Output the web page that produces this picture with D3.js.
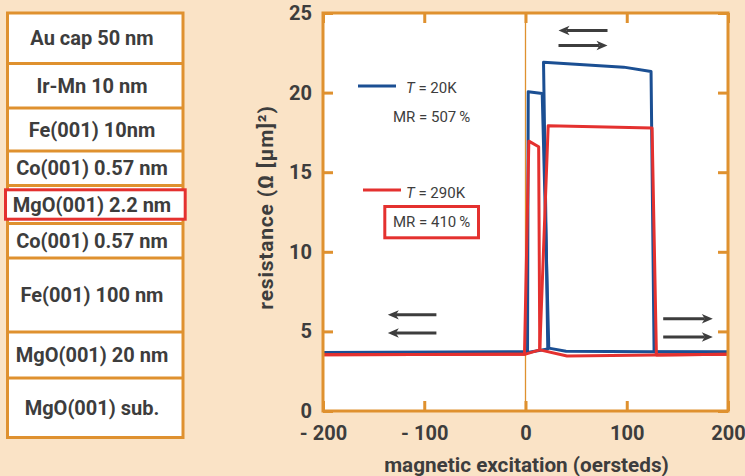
<!DOCTYPE html>
<html>
<head>
<meta charset="utf-8">
<script src="https://cdn.jsdelivr.net/npm/d3@7"></script>
<style>
  body { margin: 0; background: #fae3c6; }
  svg { display: block; font-family: Roboto, 'DejaVu Sans', sans-serif; }
</style>
</head>
<body>
<svg id="chart" width="745" height="476"></svg>
<script>
'use strict'

// layer stack, top to bottom
const layerNames = ['Au cap 50 nm', 'Ir-Mn 10 nm', 'Fe(001) 10nm', 'Co(001) 0.57 nm', 'MgO(001) 2.2 nm',
  'Co(001) 0.57 nm', 'Fe(001) 100 nm', 'MgO(001) 20 nm', 'MgO(001) sub.']
const barrierLayer = 'MgO(001) 2.2 nm'

// field sweeps (oersteds) and resistance (ohm um^2)
const blueUpH = [-200, 2, 2.7, 16.5, 23, 40, 125, 200]
const blueUpR = [3.67, 3.72, 20.05, 19.95, 3.95, 3.75, 3.72, 3.71]
const blueDownH = [200, 127, 124, 97, 17.8, 22, 2, -200]
const blueDownR = [3.71, 3.72, 21.32, 21.6, 21.9, 3.9, 3.68, 3.67]
const redUpH = [-200, -1, 3.3, 13, 14.1, 41, 129, 200]
const redUpR = [3.54, 3.57, 16.95, 16.6, 3.84, 3.46, 3.52, 3.57]
const redDownH = [200, 129.3, 125, 22.4, 14.1, 0, -200]
const redDownR = [3.57, 3.52, 17.78, 17.92, 3.84, 3.57, 3.54]

const xTicks = [-200, -100, 0, 100, 200]
const yTicks = [0, 5, 10, 15, 20, 25]
const legendTemps = ['20K', '290K']
const legendMR = ['507', '410']

const orange = '#df912f'
const ink = '#3d3d3d'
const blue = '#1b4f93'
const red = '#e4312f'

const svg = d3.select('#chart')
svg.append('rect').attr('width', 745).attr('height', 476).attr('fill', '#fae3c6')

// ---- layer stack ----
const layerEdges = [13, 63.5, 108, 151, 185.5, 223.5, 258, 332, 378, 437.5]
const stack = svg.append('g')
stack.append('rect')
  .attr('x', 7.5).attr('y', layerEdges[0])
  .attr('width', 175.5).attr('height', layerEdges[layerEdges.length - 1] - layerEdges[0])
  .attr('fill', '#fff').attr('stroke', orange).attr('stroke-width', 3)
stack.selectAll('line.sep')
  .data(layerEdges.slice(1, -1))
  .enter().append('line')
  .attr('class', 'sep')
  .attr('x1', 7.5).attr('x2', 183)
  .attr('y1', d => d).attr('y2', d => d)
  .attr('stroke', orange).attr('stroke-width', 3)

const bi = layerNames.indexOf(barrierLayer)
stack.append('rect')
  .attr('x', 5.5).attr('y', layerEdges[bi] + 4.3)
  .attr('width', 179.7).attr('height', layerEdges[bi + 1] - layerEdges[bi] - 8.6)
  .attr('fill', '#fff').attr('stroke', red).attr('stroke-width', 3)

stack.selectAll('text')
  .data(layerNames)
  .enter().append('text')
  .attr('x', 92)
  .attr('y', (d, i) => (layerEdges[i] + layerEdges[i + 1]) / 2)
  .attr('dy', '0.36em')
  .attr('text-anchor', 'middle')
  .attr('font-size', 20).attr('font-weight', 700)
  .attr('fill', ink)
  .text(d => d)

// ---- chart ----
const plot = { left: 323, right: 728, top: 13, bottom: 411 }
const x = d3.scaleLinear().domain([-200, 200]).range([plot.left, plot.right])
const y = d3.scaleLinear().domain([0, 25]).range([plot.bottom, plot.top])

svg.append('rect')
  .attr('x', plot.left).attr('y', plot.top)
  .attr('width', plot.right - plot.left).attr('height', plot.bottom - plot.top)
  .attr('fill', '#fff')

svg.append('line')
  .attr('x1', x(0)).attr('x2', x(0))
  .attr('y1', plot.top).attr('y2', plot.bottom)
  .attr('stroke', orange).attr('stroke-width', 1.3)

const line = d3.line().x(d => x(d[0])).y(d => y(d[1]))
const curves = [
  { h: blueDownH, r: blueDownR, c: blue },
  { h: blueUpH, r: blueUpR, c: blue },
  { h: redDownH, r: redDownR, c: red },
  { h: redUpH, r: redUpR, c: red }
]
svg.append('g').selectAll('path')
  .data(curves)
  .enter().append('path')
  .attr('d', d => line(d3.zip(d.h, d.r)))
  .attr('fill', 'none')
  .attr('stroke', d => d.c)
  .attr('stroke-width', 3)
  .attr('stroke-linejoin', 'round')

const fmt = d => d < 0 ? '- ' + Math.abs(d) : String(d)

function styleAxis (g) {
  g.select('.domain').remove()
  g.selectAll('.tick line').attr('stroke', orange).attr('stroke-width', 3)
  g.selectAll('.tick text')
    .attr('fill', ink)
    .attr('font-size', 20)
    .attr('font-weight', 700)
    .attr('font-family', 'Roboto, sans-serif')
}

svg.append('g')
  .attr('transform', `translate(0,${plot.bottom})`)
  .call(d3.axisBottom(x).tickValues(xTicks).tickSizeInner(-10).tickSizeOuter(0).tickPadding(15).tickFormat(fmt))
  .call(styleAxis)
svg.append('g')
  .attr('transform', `translate(${plot.left},0)`)
  .call(d3.axisLeft(y).tickValues(yTicks).tickSizeInner(-10).tickSizeOuter(0).tickPadding(11))
  .call(styleAxis)
svg.append('g')
  .attr('transform', `translate(0,${plot.top})`)
  .call(d3.axisTop(x).tickValues(xTicks).tickSizeInner(-10).tickSizeOuter(0).tickFormat(''))
  .call(styleAxis)
svg.append('g')
  .attr('transform', `translate(${plot.right},0)`)
  .call(d3.axisRight(y).tickValues(yTicks).tickSizeInner(-10).tickSizeOuter(0).tickFormat(''))
  .call(styleAxis)

svg.append('rect')
  .attr('x', plot.left).attr('y', plot.top)
  .attr('width', plot.right - plot.left).attr('height', plot.bottom - plot.top)
  .attr('fill', 'none').attr('stroke', orange).attr('stroke-width', 3)

// axis titles
svg.append('text')
  .attr('x', (plot.left + plot.right) / 2 + 1).attr('y', 472)
  .attr('text-anchor', 'middle')
  .attr('font-size', 20.7).attr('font-weight', 700).attr('fill', ink)
  .text('magnetic excitation (oersteds)')
svg.append('text')
  .attr('transform', 'translate(273,207.5) rotate(-90)')
  .attr('text-anchor', 'middle')
  .attr('font-size', 21).attr('font-weight', 700).attr('fill', ink)
  .attr('letter-spacing', 0.8)
  .text('resistance (Ω [μm]²)')

// sweep direction arrows, in data units [h0, h1, r]
const arrows = [
  [81, 32.6, 23.9], [32.6, 81, 22.96],
  [-88, -136, 6.04], [-88, -136, 4.9],
  [136, 185, 5.79], [136, 185, 4.65]
]
const ag = svg.append('g')
arrows.forEach(a => {
  const x0 = x(a[0])
  const x1 = x(a[1])
  const yy = y(a[2])
  const s = Math.sign(x1 - x0)
  ag.append('line')
    .attr('x1', x0).attr('x2', x1 - s * 8)
    .attr('y1', yy).attr('y2', yy)
    .attr('stroke', ink).attr('stroke-width', 3)
  ag.append('path')
    .attr('d', `M${x1},${yy}L${x1 - s * 11},${yy - 4.7}L${x1 - s * 8},${yy}L${x1 - s * 11},${yy + 4.7}Z`)
    .attr('fill', ink)
})

// legend
const legend = svg.append('g').attr('font-size', 15).attr('fill', ink)
const legendRows = [
  { line: [358, 396, 86], t: 87.5, mr: 121.5, c: blue },
  { line: [363, 401, 190], t: 193, mr: 227, c: red }
]
legendRows.forEach((row, i) => {
  legend.append('line')
    .attr('x1', row.line[0]).attr('x2', row.line[1])
    .attr('y1', row.line[2]).attr('y2', row.line[2])
    .attr('stroke', row.c).attr('stroke-width', 3)
  const t = legend.append('text').attr('x', 406).attr('y', row.t).attr('dy', '0.35em')
  t.append('tspan').attr('font-style', 'italic').text('T')
  t.append('tspan').text(' = ' + legendTemps[i])
  legend.append('text').attr('x', 393).attr('y', row.mr).text('MR = ' + legendMR[i] + '\u2009%')
})
legend.append('rect')
  .attr('x', 384.8).attr('y', 206.5)
  .attr('width', 93.7).attr('height', 31.3)
  .attr('fill', 'none').attr('stroke', red).attr('stroke-width', 3)
</script>
</body>
</html>
